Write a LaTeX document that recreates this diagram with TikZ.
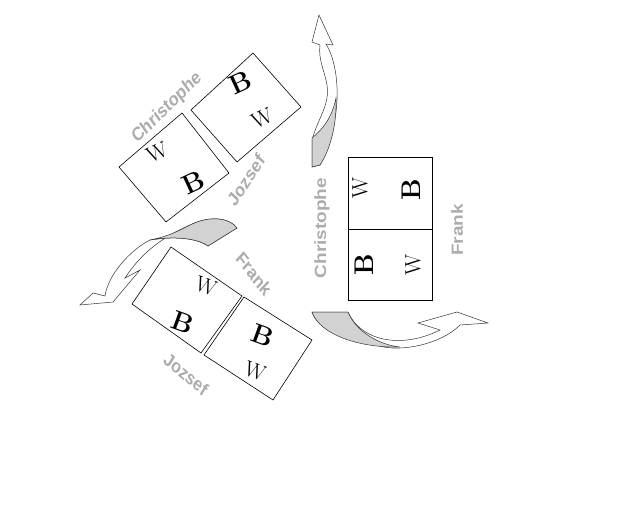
\documentclass[tikz,border=0pt]{standalone}
\usepackage{fontspec}
\setsansfont{Liberation Sans}
\begin{document}
\begin{tikzpicture}[x=1pt,y=-1pt,
    board/.style={draw=black, fill=white, line width=0.6pt},
    who/.style={font=\sffamily\bfseries\fontsize{19}{19}\selectfont, text=gray!65, inner sep=0pt, xscale=0.85},
    bigb/.style={font=\bfseries\fontsize{27}{27}\selectfont, inner sep=0pt},
    smallw/.style={font=\fontsize{22}{22}\selectfont, inner sep=0pt},
    ribbon/.style={draw=black!80, fill=white, line width=0.5pt},
    tail/.style={draw=black!80, fill=gray!35, line width=0.5pt}
]
\useasboundingbox (0,0) rectangle (640,512);

% top left pair of boards
\draw[board] (119,167) -- (182,113) -- (229,173) -- (166,222) -- cycle;
\draw[board] (191,110) -- (253,53) -- (301,107) -- (237,162) -- cycle;
\node[smallw, rotate=25] (w1) at (157,152) {W};
\node[bigb, rotate=25] (b1) at (193,183) {B};
\node[bigb, rotate=25] (b2) at (240,83) {B};
\node[smallw, rotate=25] (w2) at (262,118) {W};
\node[who, rotate=40] (chris1) at (167,108) {Christophe};
\node[who, rotate=52] (joz1) at (246,180) {Jozsef};

% bottom left pair of boards
\draw[board] (132,304) -- (171,247) -- (242,296) -- (201,353) -- cycle;
\draw[board] (204,355) -- (244,297) -- (312,340) -- (273,400) -- cycle;
\node[smallw, rotate=-20] (w3) at (206,286) {W};
\node[bigb, rotate=-20] (b3) at (183,322) {B};
\node[bigb, rotate=-20] (b4) at (263,335) {B};
\node[smallw, rotate=-20] (w4) at (255,371) {W};
\node[who, rotate=-48] (frank1) at (254,274) {Frank};
\node[who, rotate=-36] (joz2) at (186,374) {Jozsef};

% right board
\draw[board] (348,157) rectangle (432,300);
\draw[board] (348,229) -- (432,229);
\node[smallw, rotate=90] (w5) at (360,188) {W};
\node[bigb, rotate=90] (b5) at (411,190) {B};
\node[bigb, rotate=90] (b6) at (364,265) {B};
\node[smallw, rotate=90] (w6) at (413,265) {W};
\node[who, rotate=90] (chris2) at (322,228) {Christophe};
\node[who, rotate=90] (frank2) at (457,230) {Frank};

% top arrow
\draw[ribbon] (312,167) -- (312,140) .. controls (318,118) and (330,105) .. (327,85)
  .. controls (325,72) and (318,60) .. (320,45) -- (312,42) -- (319,15) -- (333,45)
  -- (326,44) .. controls (336,60) and (340,90) .. (335,118)
  .. controls (332,140) and (326,155) .. (320,165) -- cycle;
\draw[tail] (312,167) -- (312,138) .. controls (322,130) and (332,118) .. (336,98)
  .. controls (337,125) and (330,150) .. (320,165) -- cycle;

% bottom right arrow
\draw[ribbon] (312,312) -- (348,312) .. controls (360,340) and (400,350) .. (440,330)
  -- (418,323) -- (457,312) -- (488,323) -- (460,325)
  .. controls (440,345) and (400,352) .. (380,346)
  .. controls (345,340) and (318,330) .. (312,312) -- cycle;
\draw[tail] (312,312) -- (348,312) .. controls (356,332) and (380,345) .. (400,347)
  .. controls (360,348) and (320,335) .. (312,312) -- cycle;

% left arrow
\draw[ribbon] (237,228) .. controls (230,218) and (210,215) .. (190,225)
  .. controls (160,238) and (140,255) .. (125,278) -- (140,270) -- (113,302)
  -- (80,305) -- (93,293) -- (105,296)
  .. controls (108,275) and (130,250) .. (150,240)
  .. controls (180,235) and (200,240) .. (208,246) -- cycle;
\draw[tail] (237,228) .. controls (230,218) and (210,215) .. (190,225)
  .. controls (180,230) and (170,236) .. (150,240)
  .. controls (180,235) and (200,240) .. (208,246) -- cycle;
\end{tikzpicture}
\end{document}
